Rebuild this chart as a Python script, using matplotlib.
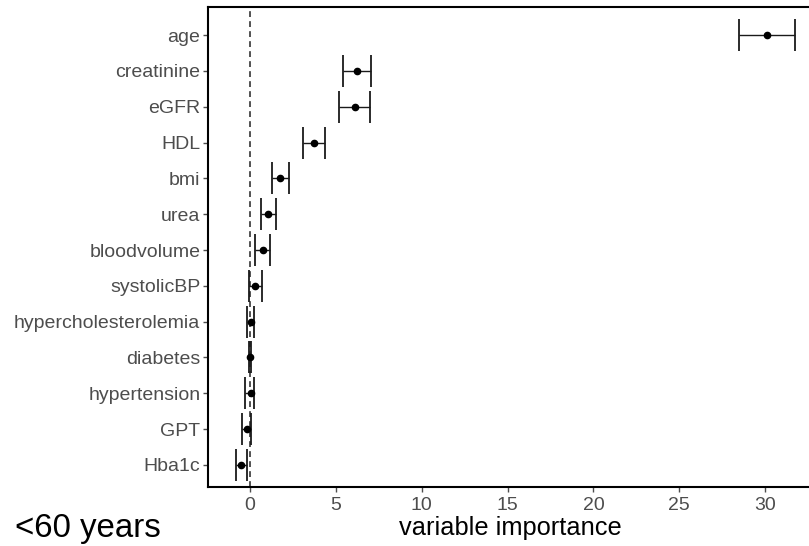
import matplotlib
matplotlib.use("Agg")
import matplotlib.pyplot as plt
import numpy as np

plt.rcParams['font.family'] = ['Liberation Sans', 'DejaVu Sans']

# variable importance, top to bottom as in the chart
variables = ["age", "creatinine", "eGFR", "HDL", "bmi", "urea", "bloodvolume",
             "systolicBP", "hypercholesterolemia", "diabetes", "hypertension",
             "GPT", "Hba1c"]
importance = [30.1, 6.23, 6.10, 3.75, 1.75, 1.05, 0.76, 0.29, 0.04, 0.0, 0.04, -0.19, -0.50]
lower = [28.5, 5.40, 5.18, 3.10, 1.28, 0.64, 0.29, -0.06, -0.16, -0.04, -0.27, -0.48, -0.82]
upper = [31.74, 7.07, 6.99, 4.35, 2.27, 1.51, 1.16, 0.70, 0.23, 0.04, 0.23, 0.06, -0.19]

importance = np.array(importance)
err = [importance - np.array(lower), np.array(upper) - importance]
ypos = np.arange(len(variables))[::-1] + 1

fig = plt.figure(figsize=(8.09, 5.46), dpi=100)
ax = fig.add_axes([208/809, 1 - 487/546, 604/809, 480/546])

ax.axvline(0, color="#333333", linestyle=(0, (3.5, 2.5)), linewidth=1.2, zorder=1)
ax.errorbar(importance, ypos, xerr=err, fmt="o", color="black", ms=4.5,
            ecolor="#1a1a1a", elinewidth=1.0, capsize=11.5, capthick=1.3, zorder=3)

px = 17.17
ax.set_xlim(-42/px, 562/px)
ax.set_ylim(1 - 22/35.83, 13 + 28/35.83)
ax.set_xticks([0, 5, 10, 15, 20, 25, 30])
ax.set_yticks(ypos)
ax.set_yticklabels(variables)

for s in ax.spines.values():
    s.set_linewidth(1.5)
    s.set_color("black")
ax.tick_params(axis="both", colors="#4d4d4d", labelsize=14, length=3.5, width=1.0)
ax.tick_params(axis="x", pad=4)
ax.tick_params(axis="y", pad=2)

ax.set_xlabel("variable importance", fontsize=18.3, color="black", labelpad=1)
fig.text(15/809, 1 - 529/546, "<60 years", fontsize=23.8, color="black",
         ha="left", va="center")

fig.savefig("out.png", dpi=100)
